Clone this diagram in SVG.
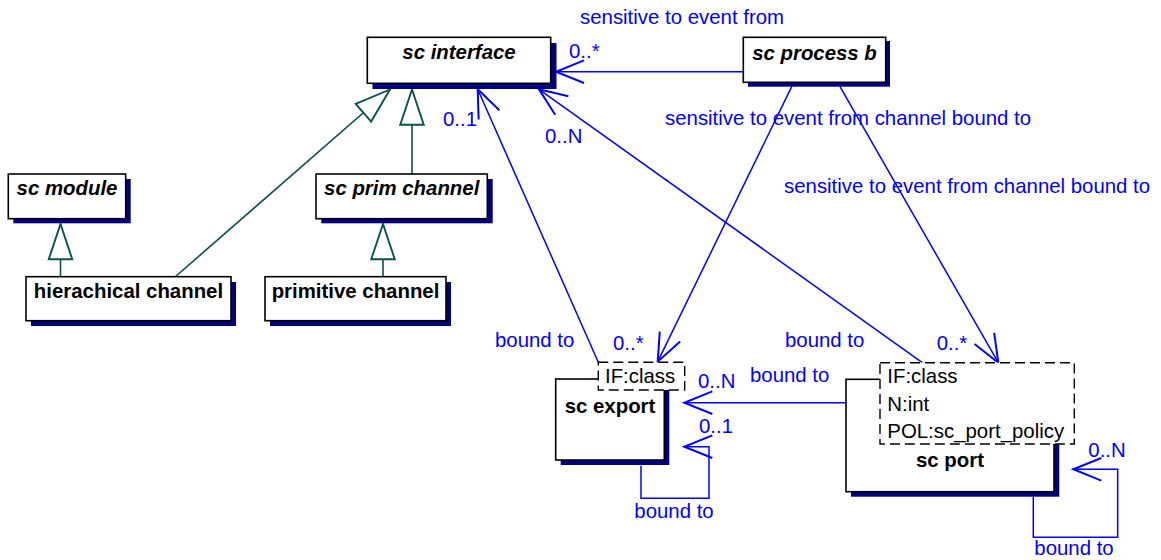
<svg xmlns="http://www.w3.org/2000/svg" width="1161" height="560" viewBox="0 0 1161 560">
  <defs>
    <style>
      .shadow { fill: #000080; }
      .box { fill: #ffffff; stroke: #000000; stroke-width: 1.6; }
      .tmpl { fill: #ffffff; stroke: #000000; stroke-width: 1.4; stroke-dasharray: 10 5; }
      .title { font-family: "Liberation Sans", Arial, sans-serif; font-size: 20.4px; font-weight: bold; fill: #000000; }
      .abstract { font-style: italic; }
      .param { font-family: "Liberation Sans", Arial, sans-serif; font-size: 20.4px; fill: #000000; }
      .lbl { font-family: "Liberation Sans", Arial, sans-serif; font-size: 20.4px; fill: #0000ff; }
      .assoc { fill: none; stroke: #0000ff; stroke-width: 1.5; }
      .gen { fill: none; stroke: #0b4f4f; stroke-width: 1.6; }
    </style>
    <marker id="open" markerUnits="userSpaceOnUse" markerWidth="40" markerHeight="40" refX="0" refY="0" viewBox="-25 -12 30 24" orient="auto" overflow="visible">
      <path d="M -21 -8.5 L 0 0 L -21 8.5" fill="none" stroke="#0000ff" stroke-width="1.5"/>
    </marker>
    <marker id="tri" markerUnits="userSpaceOnUse" markerWidth="40" markerHeight="40" refX="0" refY="0" viewBox="-32 -12 34 24" orient="auto" overflow="visible">
      <path d="M 0 0 L -30 -10 L -30 10 Z" fill="#ffffff" stroke="#0b4f4f" stroke-width="1.6"/>
    </marker>
  </defs>

  <!-- generalisation lines -->
  <g id="generalizations">
    <line class="gen" x1="175" y1="277" x2="390" y2="89.5" marker-end="url(#tri)"/>
    <line class="gen" x1="412" y1="174" x2="412" y2="89.5" marker-end="url(#tri)"/>
    <line class="gen" x1="60.5" y1="277" x2="60.5" y2="224" marker-end="url(#tri)"/>
    <line class="gen" x1="383" y1="277" x2="383" y2="224" marker-end="url(#tri)"/>
  </g>

  <!-- association lines -->
  <g id="connectors">
    <line class="assoc" x1="743" y1="71.7" x2="556" y2="71.7" marker-end="url(#open)"/>
    <line class="assoc" x1="598.3" y1="362.3" x2="477.7" y2="89.3" marker-end="url(#open)"/>
    <line class="assoc" x1="922.3" y1="362.7" x2="539" y2="89.3" marker-end="url(#open)"/>
    <line class="assoc" x1="791.7" y1="86.7" x2="657.7" y2="361.7" marker-end="url(#open)"/>
    <line class="assoc" x1="840" y1="86.7" x2="998.3" y2="362.7" marker-end="url(#open)"/>
    <line class="assoc" x1="846" y1="402.7" x2="684.3" y2="402.7" marker-end="url(#open)"/>
    <polyline class="assoc" points="641,465.7 641,498.3 709,498.3 709,446.7 684.3,446.7" marker-end="url(#open)"/>
    <polyline class="assoc" points="1033.3,496.7 1033.3,537.3 1117.7,537.3 1117.7,469.3 1073.3,469.3" marker-end="url(#open)"/>
  </g>

  <!-- association labels -->
  <g id="labels">
    <text class="lbl" x="580" y="24">sensitive to event from</text>
    <text class="lbl" x="569" y="58.3">0..*</text>
    <text class="lbl" x="443" y="126">0..1</text>
    <text class="lbl" x="545" y="143.3">0..N</text>
    <text class="lbl" x="665" y="125">sensitive to event from channel bound to</text>
    <text class="lbl" x="784" y="193.3">sensitive to event from channel bound to</text>
    <text class="lbl" x="495" y="346.7">bound to</text>
    <text class="lbl" x="613" y="350">0..*</text>
    <text class="lbl" x="785" y="346.7">bound to</text>
    <text class="lbl" x="936.7" y="350">0..*</text>
    <text class="lbl" x="750" y="382">bound to</text>
    <text class="lbl" x="698" y="388.3">0..N</text>
    <text class="lbl" x="699" y="433.3">0..1</text>
    <text class="lbl" x="634.3" y="518.3">bound to</text>
    <text class="lbl" x="1088.3" y="456.7">0..N</text>
    <text class="lbl" x="1034.3" y="555">bound to</text>
  </g>

  <g id="sc_interface">
    <rect class="shadow" x="372.5" y="43" width="184" height="46"/>
    <rect class="box" x="367.3" y="37.3" width="183.4" height="46"/>
    <text class="title abstract" x="459" y="59.3" text-anchor="middle">sc interface</text>
  </g>

  <g id="sc_process_b">
    <rect class="shadow" x="748" y="41" width="142" height="45.7"/>
    <rect class="box" x="743.3" y="37.3" width="142.4" height="45"/>
    <text class="title abstract" x="814.5" y="60" text-anchor="middle">sc process b</text>
  </g>

  <g id="sc_module">
    <rect class="shadow" x="13.3" y="179" width="117.4" height="44.3"/>
    <rect class="box" x="8.3" y="174" width="117.4" height="44.7"/>
    <text class="title abstract" x="67" y="195" text-anchor="middle">sc module</text>
  </g>

  <g id="sc_prim_channel">
    <rect class="shadow" x="321.3" y="179" width="171.4" height="44.3"/>
    <rect class="box" x="316" y="174" width="171.3" height="44.7"/>
    <text class="title abstract" x="401.7" y="195" text-anchor="middle">sc prim channel</text>
  </g>

  <g id="hierachical_channel">
    <rect class="shadow" x="31" y="282" width="205" height="44"/>
    <rect class="box" x="26" y="276.7" width="205" height="44"/>
    <text class="title" x="128.5" y="298.3" text-anchor="middle">hierachical channel</text>
  </g>

  <g id="primitive_channel">
    <rect class="shadow" x="270" y="282" width="181" height="44"/>
    <rect class="box" x="265" y="276.7" width="181" height="44"/>
    <text class="title" x="355.5" y="298.3" text-anchor="middle">primitive channel</text>
  </g>

  <g id="sc_export">
    <rect class="shadow" x="560.7" y="384" width="108.6" height="81"/>
    <rect class="box" x="555.7" y="379" width="108.6" height="81"/>
    <text class="title" x="610" y="412.7" text-anchor="middle">sc export</text>
    <rect class="tmpl" x="598.3" y="362.3" width="86.4" height="27.7"/>
    <text class="param" x="605" y="383.3">IF:class</text>
  </g>

  <g id="sc_port">
    <rect class="shadow" x="851" y="384.3" width="208.3" height="112.4"/>
    <rect class="box" x="846" y="379.3" width="208" height="112.4"/>
    <text class="title" x="950" y="466.7" text-anchor="middle">sc port</text>
    <rect class="tmpl" x="880" y="362.7" width="194.3" height="81.3"/>
    <text class="param" x="887.3" y="383.3">IF:class</text>
    <text class="param" x="887.3" y="411.3">N:int</text>
    <text class="param" x="887.3" y="438.3">POL:sc_port_policy</text>
  </g>
</svg>
